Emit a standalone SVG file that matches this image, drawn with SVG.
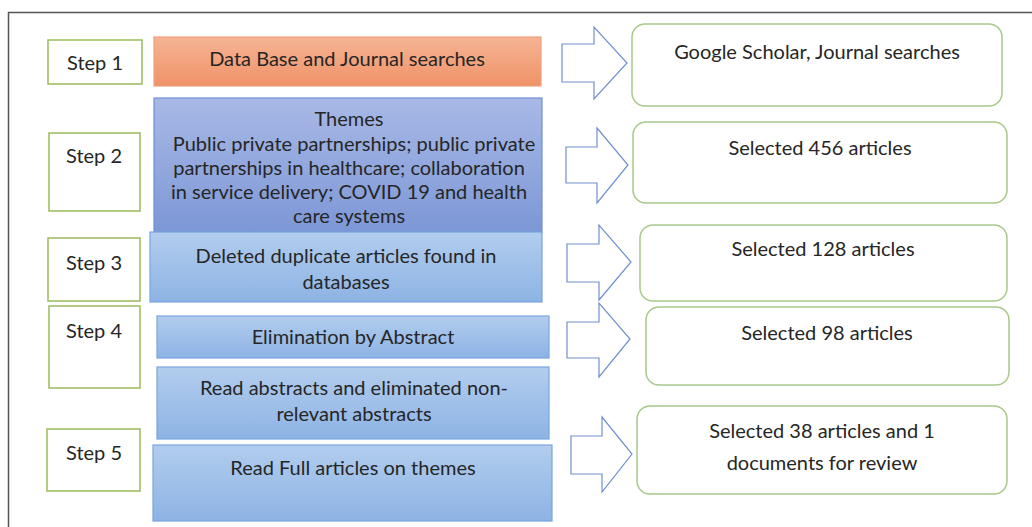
<svg xmlns="http://www.w3.org/2000/svg" width="1032" height="527" viewBox="0 0 1032 527">
  <defs>
    <linearGradient id="gOrange" x1="0" y1="0" x2="0" y2="1">
      <stop offset="0" stop-color="#f6b494"/>
      <stop offset="1" stop-color="#ef9268"/>
    </linearGradient>
    <linearGradient id="gThemes" x1="0" y1="0" x2="0" y2="1">
      <stop offset="0" stop-color="#a8b9e6"/>
      <stop offset="1" stop-color="#7d97d6"/>
    </linearGradient>
    <linearGradient id="gBlue" x1="0" y1="0" x2="0" y2="1">
      <stop offset="0" stop-color="#b2cdee"/>
      <stop offset="1" stop-color="#8db3e4"/>
    </linearGradient>
  </defs>
  <style>
    text { font-family: Lato, "Liberation Sans", sans-serif; font-size: 20px; fill: #262626; text-anchor: middle; }
    .step { fill: #ffffff; stroke: #9bbb59; stroke-width: 1.5; }
    .res { fill: #ffffff; stroke: #a8c98a; stroke-width: 1.5; }
    .orange { fill: url(#gOrange); stroke: #eea07c; stroke-width: 1.2; }
    .themes { fill: url(#gThemes); stroke: #6f8fd2; stroke-width: 1.2; }
    .blue { fill: url(#gBlue); stroke: #78a5de; stroke-width: 1.2; }
    .arrow { fill: #ffffff; stroke: #6f8fd2; stroke-width: 1.2; stroke-linejoin: miter; }
    .frame { fill: none; stroke: #555555; stroke-width: 1.5; }
  </style>

  <path class="frame" d="M8.5,527 L8.5,12.5 L1032,12.5"/>

  <g id="step1"><rect class="step" x="48" y="40" width="94" height="44"/><text x="95" y="70">Step 1</text></g>
  <g id="step2"><rect class="step" x="49" y="133" width="91" height="78"/><text x="94" y="163">Step 2</text></g>
  <g id="step3"><rect class="step" x="48" y="238" width="92" height="63"/><text x="94" y="270">Step 3</text></g>
  <g id="step4"><rect class="step" x="49" y="306" width="91" height="82"/><text x="94" y="338">Step 4</text></g>
  <g id="step5"><rect class="step" x="47" y="429" width="93" height="62"/><text x="94" y="460">Step 5</text></g>

  <g id="search"><rect class="orange" x="154" y="37" width="387" height="49"/><text x="347" y="66">Data Base and Journal searches</text></g>
  <g id="themes"><rect class="themes" x="154" y="98" width="388" height="134"/>
    <text x="349" y="126">Themes</text>
    <text x="354" y="151">Public private partnerships; public private</text>
    <text x="349" y="175">partnerships in healthcare; collaboration</text>
    <text x="349" y="199">in service delivery; COVID 19 and health</text>
    <text x="349" y="223">care systems</text>
  </g>
  <g id="duplicates"><rect class="blue" x="150" y="232" width="392" height="70"/>
    <text x="346" y="263">Deleted duplicate articles found in</text>
    <text x="346" y="289">databases</text>
  </g>
  <g id="elimination"><rect class="blue" x="157" y="316" width="392" height="42"/><text x="353" y="344">Elimination by Abstract</text></g>
  <g id="readabstracts"><rect class="blue" x="157" y="367" width="392" height="72"/>
    <text x="354" y="395">Read abstracts and eliminated non-</text>
    <text x="354" y="421">relevant abstracts</text>
  </g>
  <g id="readfull"><rect class="blue" x="153" y="445" width="399" height="76"/><text x="353" y="475">Read Full articles on themes</text></g>

  <g id="connectors">
    <polygon class="arrow" points="562,44 594,44 594,27 627,63 594,99 594,82 562,82"/>
    <polygon class="arrow" points="566,147 597,147 597,128 628,165 597,203 597,183 566,183"/>
    <polygon class="arrow" points="567,244 599,244 599,225 631,262 599,300 599,282 567,282"/>
    <polygon class="arrow" points="567,322 599,322 599,303 630,339 599,377 599,358 567,358"/>
    <polygon class="arrow" points="571,436 602,436 602,417 632,454 602,492 602,474 571,474"/>
  </g>

  <g id="result1"><rect class="res" x="632" y="24" width="370" height="82" rx="13"/><text x="817" y="59">Google Scholar, Journal searches</text></g>
  <g id="result2"><rect class="res" x="633" y="122" width="374" height="81" rx="13"/><text x="820" y="155">Selected 456 articles</text></g>
  <g id="result3"><rect class="res" x="640" y="225" width="367" height="76" rx="13"/><text x="823" y="256">Selected 128 articles</text></g>
  <g id="result4"><rect class="res" x="646" y="307" width="363" height="78" rx="13"/><text x="827" y="340">Selected 98 articles</text></g>
  <g id="result5"><rect class="res" x="637" y="406" width="370" height="88" rx="13"/>
    <text x="822" y="438">Selected 38 articles and 1</text>
    <text x="822" y="470">documents for review</text>
  </g>
</svg>
